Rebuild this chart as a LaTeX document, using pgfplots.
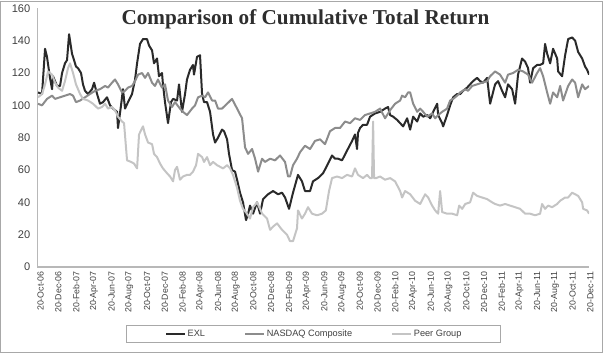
\documentclass[border=0pt]{standalone}
\usepackage{fontspec}
\setmainfont{Liberation Sans}
\newfontfamily\titlefont{Liberation Serif}
\usepackage{pgfplots}
\pgfplotsset{compat=1.18}
\definecolor{exl}{HTML}{2A2A2A}
\definecolor{nasdaq}{HTML}{8C8C8C}
\definecolor{peer}{HTML}{C4C4C4}
\definecolor{axisgray}{HTML}{B8B8B8}
\definecolor{framegray}{HTML}{A8A8A8}
\definecolor{txt}{HTML}{404040}

\pgfplotstableread{
m v
0.08 108
0.53 107
0.87 135
1.09 130
1.43 117
1.66 110
1.77 118
2.22 112
2.56 112
2.79 120
3.12 126
3.35 128
3.58 144
3.91 132
4.14 128
4.36 124
4.59 123
4.93 120
5.15 113
5.38 109
5.72 107
6.17 110
6.40 114
6.74 107
7.07 101
7.41 102
7.86 105
8.20 100
8.54 98
8.99 96
9.10 86
9.44 100
9.66 110
9.89 98
10.23 102
10.68 107
11.02 116
11.25 126
11.58 138
11.92 141
12.37 141
12.60 137
12.94 134
13.16 126
13.50 129
13.72 118
14.06 120
14.17 113
14.40 102
14.74 89
15.08 102
15.31 104
15.76 103
15.98 113
16.32 96
16.66 107
16.88 116
17.22 122
17.56 125
17.67 119
18.01 130
18.35 131
18.58 107
18.80 102
19.14 102
19.48 96
19.82 82
20.05 77
20.38 80
20.83 85
21.06 84
21.40 79
21.62 70
21.96 60
22.30 59
22.53 54
22.86 46
23.20 40
23.54 29
23.77 33
23.99 38
24.33 33
24.78 40
25.12 33
25.46 42
26.02 45
26.59 47
27.15 45
27.60 46
27.94 43
28.39 36
28.84 46
29.40 57
29.85 53
30.19 47
30.76 47
31.09 53
31.66 55
32.23 58
32.79 64
33.24 69
33.58 67
33.92 67
34.37 66
34.93 72
35.50 78
35.83 82
36.06 73
36.17 83
36.40 86
36.74 88
37.19 88
37.53 93
38.09 95
38.66 96
39.22 98
39.56 99
39.79 94
40.13 93
40.58 91
40.92 89
41.26 87
41.71 92
42.05 85
42.39 93
42.84 90
43.18 95
43.52 93
43.97 94
44.31 92
44.65 96
45.10 101
45.21 94
45.66 89
45.77 87
46.22 94
46.56 100
46.90 105
47.35 107
47.69 107
48.03 109
48.48 111
48.81 113
49.15 115
49.60 117
49.94 115
50.28 114
50.73 117
51.07 101
51.63 113
51.97 115
52.42 109
52.76 105
53.09 113
53.55 110
53.89 101
54.22 119
54.67 129
55.02 127
55.35 123
55.58 114
55.92 123
56.37 125
56.71 125
57.05 126
57.27 138
57.50 132
57.84 126
58.17 135
58.63 129
58.74 121
59.19 118
59.53 131
59.87 141
60.32 142
60.66 140
61.00 133
61.45 129
61.78 124
62.01 122
62.23 119
}\exltable

\pgfplotstableread{
m v
0.08 101
0.53 100
1.09 104
1.66 106
2.00 104
2.56 105
3.12 106
3.69 107
4.03 106
4.36 102
4.82 103
5.38 105
5.94 107
6.51 109
7.07 110
7.64 112
7.97 111
8.42 114
8.76 116
9.10 113
9.55 108
9.89 109
10.23 111
10.68 112
11.02 115
11.36 119
11.81 120
12.15 117
12.49 120
12.94 114
13.27 112
13.61 116
14.06 111
14.40 113
14.74 103
15.19 99
15.53 102
16.09 98
16.43 96
16.88 94
17.45 98
17.79 100
18.13 105
18.58 106
18.92 105
19.25 108
19.71 103
20.05 103
20.38 98
20.83 98
21.40 101
21.96 104
22.53 98
23.09 92
23.43 74
23.77 70
24.22 73
24.56 67
24.90 59
25.35 67
25.68 65
26.25 67
26.81 66
27.37 69
27.94 65
28.28 56
28.50 56
28.84 63
29.29 67
29.63 71
30.19 75
30.76 73
31.32 78
31.89 79
32.45 76
33.01 84
33.58 86
34.14 86
34.71 90
35.27 89
35.83 92
36.40 91
36.96 94
37.53 95
38.09 96
38.66 98
39.22 92
39.79 97
40.35 101
40.92 103
41.14 106
41.48 105
41.82 108
42.05 108
42.39 101
42.84 96
43.18 98
43.52 96
43.97 93
44.53 95
44.87 92
45.21 94
45.66 96
46.22 98
46.56 103
46.90 104
47.35 106
47.69 108
48.26 110
48.58 109
49.04 112
49.60 113
50.17 114
50.73 115
51.07 118
51.63 121
52.19 119
52.76 114
53.09 119
53.66 120
54.22 122
54.79 121
55.35 119
55.80 114
56.37 120
56.71 123
57.05 118
57.50 108
57.84 101
58.17 108
58.63 105
58.97 112
59.30 103
59.87 112
60.32 116
60.66 114
61.00 105
61.45 113
61.78 110
62.23 112
}\nasdaqtable

\pgfplotstableread{
m v
0.08 105
0.53 107
0.87 113
1.21 121
1.66 119
2.00 114
2.33 111
2.79 109
3.12 115
3.46 123
3.69 126
4.03 120
4.36 113
4.82 107
5.15 104
5.72 103
6.28 101
6.85 98
7.30 99
7.64 101
7.97 98
8.42 99
8.76 97
9.10 93
9.55 90
9.78 89
10.00 74
10.12 66
10.57 65
10.91 64
11.25 61
11.47 82
11.92 87
12.15 82
12.49 77
12.94 76
13.16 70
13.50 68
13.84 64
14.17 61
14.63 58
14.97 56
15.31 53
15.53 60
15.76 62
16.09 54
16.43 56
16.88 57
17.22 57
17.56 59
17.90 63
18.13 70
18.58 68
18.80 65
19.14 68
19.48 63
19.82 65
20.27 63
20.61 62
20.95 61
21.40 63
21.74 61
22.07 57
22.53 49
22.86 41
23.20 36
23.65 33
23.99 30
24.33 37
24.78 40
25.12 36
25.35 33
25.91 30
26.25 23
26.59 25
27.04 27
27.60 23
28.16 20
28.50 16
28.84 16
29.29 24
29.40 35
29.85 30
30.19 33
30.53 37
30.98 33
31.55 32
32.11 33
32.54 35
32.90 47
33.24 55
33.80 56
34.37 55
34.93 57
35.50 56
35.83 61
36.17 57
36.74 55
37.19 57
37.53 55
37.75 55
37.87 90
37.98 55
38.21 55
38.66 56
39.22 54
39.79 55
40.35 53
40.92 47
41.14 43
41.48 47
42.05 45
42.61 41
43.18 39
43.74 45
44.08 43
44.53 38
44.87 35
45.21 33
45.43 47
45.66 34
46.22 33
46.79 33
47.35 32
47.58 38
47.92 36
48.26 39
48.81 40
49.15 46
49.60 44
50.17 43
50.73 42
51.30 40
51.63 39
52.19 38
52.76 39
53.32 38
53.89 37
54.45 36
55.02 33
55.58 33
56.14 32
56.71 33
56.93 39
57.27 36
57.61 38
58.06 37
58.63 39
58.97 41
59.53 43
59.87 43
60.32 46
60.66 45
61.00 44
61.45 40
61.56 36
62.01 35
62.23 33
}\peertable

\begin{document}
\begin{tikzpicture}[x=1pt,y=1pt]
\draw[framegray, line width=0.75pt] (0.375,0.375) rectangle (451.875,263.625);
\node[anchor=base, font=\titlefont\bfseries\fontsize{15.9}{18}\selectfont, text=black!82] at (229.1,246.5) {Comparison of Cumulative Total Return};
\begin{axis}[
  at={(28pt,64.5pt)}, anchor=south west,
  scale only axis, width=413.8pt, height=194pt,
  xmin=0, xmax=62.23, ymin=0, ymax=160,
  axis lines=left,
  axis line style={-, draw=axisgray, line width=1.1pt},
  major tick length=0pt,
  ytick={0,20,...,160},
  xtick={0,2,...,62},
  xticklabels={20-Oct-06,20-Dec-06,20-Feb-07,20-Apr-07,20-Jun-07,20-Aug-07,20-Oct-07,20-Dec-07,20-Feb-08,20-Apr-08,20-Jun-08,20-Aug-08,20-Oct-08,20-Dec-08,20-Feb-09,20-Apr-09,20-Jun-09,20-Aug-09,20-Oct-09,20-Dec-09,20-Feb-10,20-Apr-10,20-Jun-10,20-Aug-10,20-Oct-10,20-Dec-10,20-Feb-11,20-Apr-11,20-Jun-11,20-Aug-11,20-Oct-11,20-Dec-11},
  /pgf/number format/assume math mode=true,
  yticklabel style={font=\fontsize{8.3}{9}\selectfont, text=txt, anchor=east, xshift=-1.8pt},
  xticklabel style={font=\fontsize{6.6}{7.5}\selectfont, text=txt, rotate=90, anchor=east, yshift=-2.5pt},
  legend columns=3,
  legend cell align=left,
  legend image code/.code={\draw[#1] (0pt,0pt) -- (14pt,0pt);},
  legend style={at={(0.5006,-0.259)}, anchor=center, draw=framegray, line width=0.6pt,
    font=\fontsize{6.9}{8}\selectfont, text=txt, inner xsep=29pt, inner ysep=3pt,
    nodes={inner sep=0.4pt},
    /tikz/every even column/.append style={column sep=29pt},
    /tikz/every odd column/.append style={column sep=1pt}},
  every axis plot/.append style={line width=1.5pt, line join=round},
]
\addplot[exl] table[x=m,y=v] {\exltable};
\addlegendentry{EXL}
\addplot[nasdaq] table[x=m,y=v] {\nasdaqtable};
\addlegendentry{NASDAQ Composite}
\addplot[peer] table[x=m,y=v] {\peertable};
\addlegendentry{Peer Group}
\end{axis}
\end{tikzpicture}
\end{document}
